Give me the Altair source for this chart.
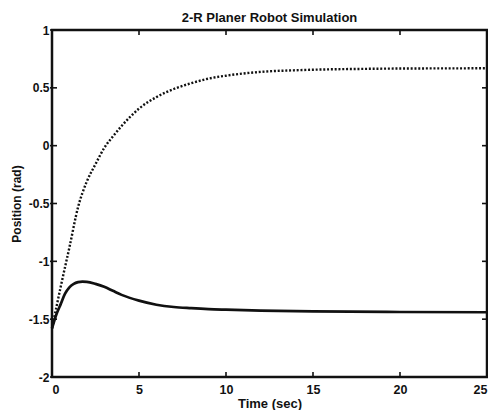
import altair as alt
import pandas as pd

# Values
t_dotted = [0, 0.5, 1.0, 1.5, 2.0, 2.5, 3.0, 3.5, 4.0, 5.0, 6.0, 7.0, 8.0, 9.0, 10, 12, 14, 16, 18, 20, 22, 25]
v_dotted = [-1.58, -1.22, -0.88, -0.53, -0.31, -0.16, -0.02, 0.08, 0.17, 0.32, 0.42, 0.49, 0.54, 0.58, 0.605, 0.638, 0.652, 0.66, 0.664, 0.667, 0.668, 0.669]

t_solid = [0, 0.25, 0.5, 0.75, 1.0, 1.25, 1.5, 1.75, 2.0, 2.5, 3.0, 3.5, 4.0, 5.0, 6.0, 7.0, 8.0, 9.0, 10, 12, 15, 20, 25]
v_solid = [-1.58, -1.46, -1.37, -1.28, -1.225, -1.195, -1.18, -1.175, -1.177, -1.195, -1.22, -1.255, -1.29, -1.34, -1.375, -1.395, -1.405, -1.413, -1.418, -1.426, -1.433, -1.438, -1.44]

x_ticks = [0, 5, 10, 15, 20, 25]
y_ticks = [-2, -1.5, -1, -0.5, 0, 0.5, 1]

title_text = "2-R Planer Robot Simulation"
x_title = "Time (sec)"
y_title = "Position (rad)"

W, H = 435, 347
FONT = "Liberation Sans"
INK = "#111111"

dotted_df = pd.DataFrame({"t": t_dotted, "v": v_dotted})
solid_df = pd.DataFrame({"t": t_solid, "v": v_solid})
xt_df = pd.DataFrame({"t": x_ticks})
yt_df = pd.DataFrame({"v": y_ticks})

xs = alt.Scale(domain=[0, 25], nice=False, zero=False)
ys = alt.Scale(domain=[-2, 1], nice=False, zero=False)

x_axis = alt.Axis(
    values=x_ticks, labelExpr="'' + datum.value", ticks=False, tickSize=0, domain=False, grid=False,
    labelFont=FONT, labelFontSize=12.5, labelFontWeight="bold", labelColor=INK, labelPadding=6,
    labelFlush=True, labelOverlap=False,
    title=x_title, titleFont=FONT, titleFontSize=13, titleFontWeight="bold", titleColor=INK,
    titleX=W / 2, titleY=30.5, titleBaseline="alphabetic", titleAlign="center",
)
y_axis = alt.Axis(
    values=y_ticks, labelExpr="'' + datum.value", ticks=False, tickSize=0, domain=False, grid=False,
    labelFont=FONT, labelFontSize=12, labelFontWeight="bold", labelColor=INK, labelPadding=3,
    labelFlush=False, labelOverlap=False,
    title=y_title, titleFont=FONT, titleFontSize=12, titleFontWeight="bold", titleColor=INK,
    titleX=-36, titleY=H / 2, titleBaseline="middle", titleAlign="center", titleAngle=270,
)

X = alt.X("t:Q", scale=xs, axis=x_axis)
Y = alt.Y("v:Q", scale=ys, axis=y_axis)

solid = alt.Chart(solid_df).mark_line(color=INK, strokeWidth=2.7, interpolate="monotone").encode(x=X, y=Y)
dotted = alt.Chart(dotted_df).mark_line(
    color=INK, strokeWidth=2.4, strokeDash=[2, 1.8], strokeCap="butt", interpolate="monotone"
).encode(x=X, y=Y)

tick_len = 5
bottom_ticks = alt.Chart(xt_df).mark_rule(color=INK, strokeWidth=1.6).encode(
    x=X, y=alt.value(H), y2=alt.value(H - tick_len)
)
top_ticks = alt.Chart(xt_df).mark_rule(color=INK, strokeWidth=1.6).encode(
    x=X, y=alt.value(0), y2=alt.value(tick_len)
)
left_ticks = alt.Chart(yt_df).mark_rule(color=INK, strokeWidth=1.6).encode(
    y=Y, x=alt.value(-2), x2=alt.value(tick_len)
)
right_ticks = alt.Chart(yt_df).mark_rule(color=INK, strokeWidth=1.6).encode(
    y=Y, x=alt.value(W - tick_len), x2=alt.value(W)
)

chart = alt.layer(solid, dotted, bottom_ticks, top_ticks, left_ticks, right_ticks).properties(
    width=W,
    height=H,
    title=alt.TitleParams(
        text=title_text, font=FONT, fontSize=13, fontWeight="bold", color=INK,
        anchor="middle", offset=6, baseline="bottom", dy=20,
    ),
    autosize=alt.AutoSizeParams(type="none"),
    padding={"left": 44, "top": 22, "right": 1, "bottom": 33},
).configure(
    background="white",
    view=alt.ViewConfig(stroke=INK, strokeWidth=2.5),
)

chart.save("out.html", embed_options={"renderer": "svg", "actions": False})
